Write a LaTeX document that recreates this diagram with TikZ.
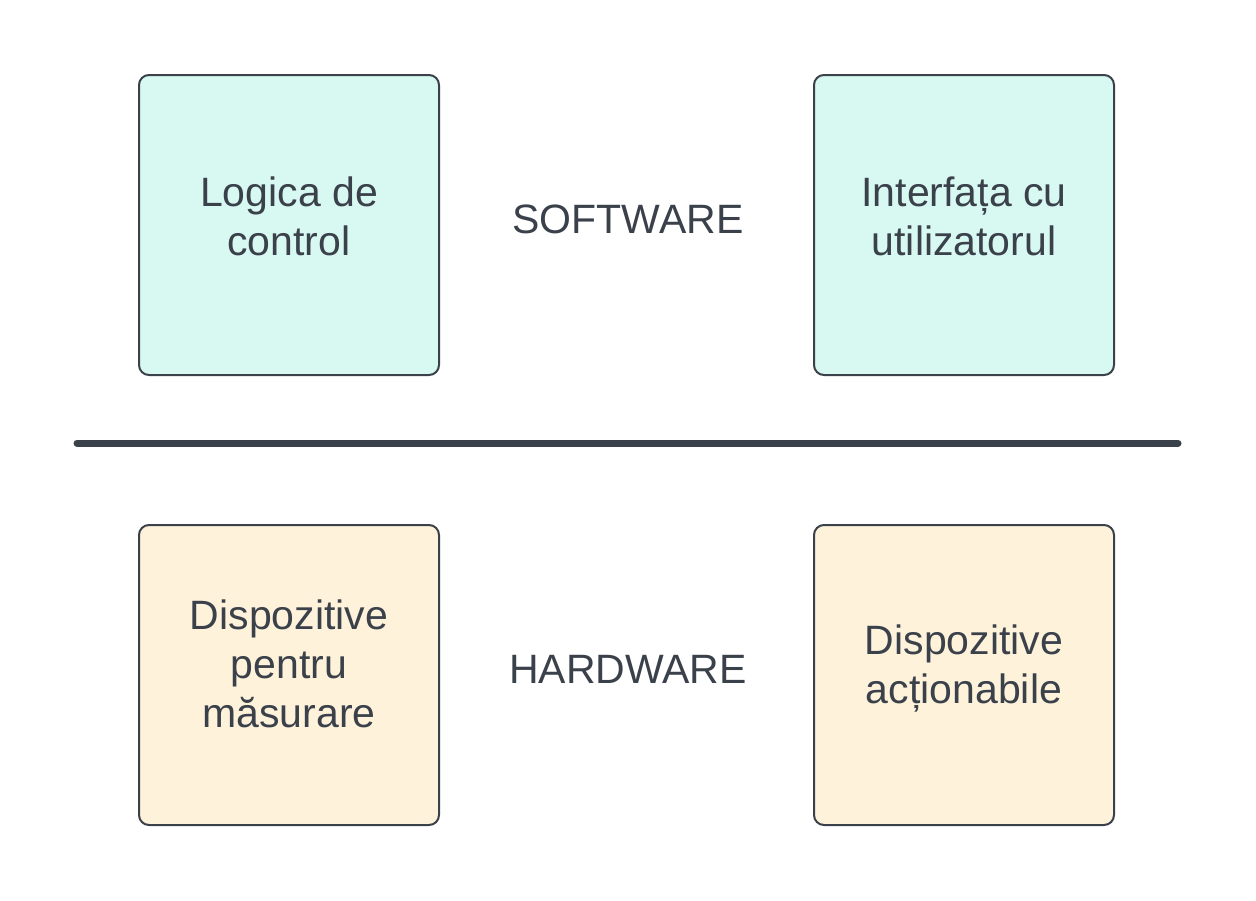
\documentclass[tikz,border=0pt]{standalone}
\usepackage{fontspec}
\setmainfont{Liberation Sans}
\definecolor{ink}{HTML}{3A414A}
\definecolor{mint}{HTML}{D8F8F2}
\definecolor{cream}{HTML}{FFF2DA}
\begin{document}
\begin{tikzpicture}[x=1pt,y=-1pt,
  card/.style={draw=ink,line width=2pt,rounded corners=10pt,minimum width=300pt,minimum height=300pt},
  soft/.style={card,fill=mint},
  hard/.style={card,fill=cream},
  lbl/.style={text=ink,align=center,font=\fontsize{41}{49}\selectfont}]
\useasboundingbox (0,0) rectangle (1256,900);
\node[soft] (logic) at (289,225) {};
\node[soft] (ui) at (964,225) {};
\node[hard] (meas) at (289,675) {};
\node[hard] (act) at (964,675) {};
\node[lbl] (logict) at ([yshift=9pt]logic.center) {Logica de\\control};
\node[lbl] (uit) at ([yshift=9pt]ui.center) {Interfața cu\\utilizatorul};
\node[lbl] (meast) at ([yshift=11pt]meas.center) {Dispozitive\\pentru\\măsurare};
\node[lbl] (actt) at ([yshift=7pt]act.center) {Dispozitive\\acționabile};
\node[lbl] (sw) at (628,219) {SOFTWARE};
\node[lbl] (hw) at (628,669) {HARDWARE};
\coordinate (l) at (77,443);
\coordinate (r) at (1178,443);
\draw[ink,line width=7pt,line cap=round] (l) -- (r);
\end{tikzpicture}
\end{document}
